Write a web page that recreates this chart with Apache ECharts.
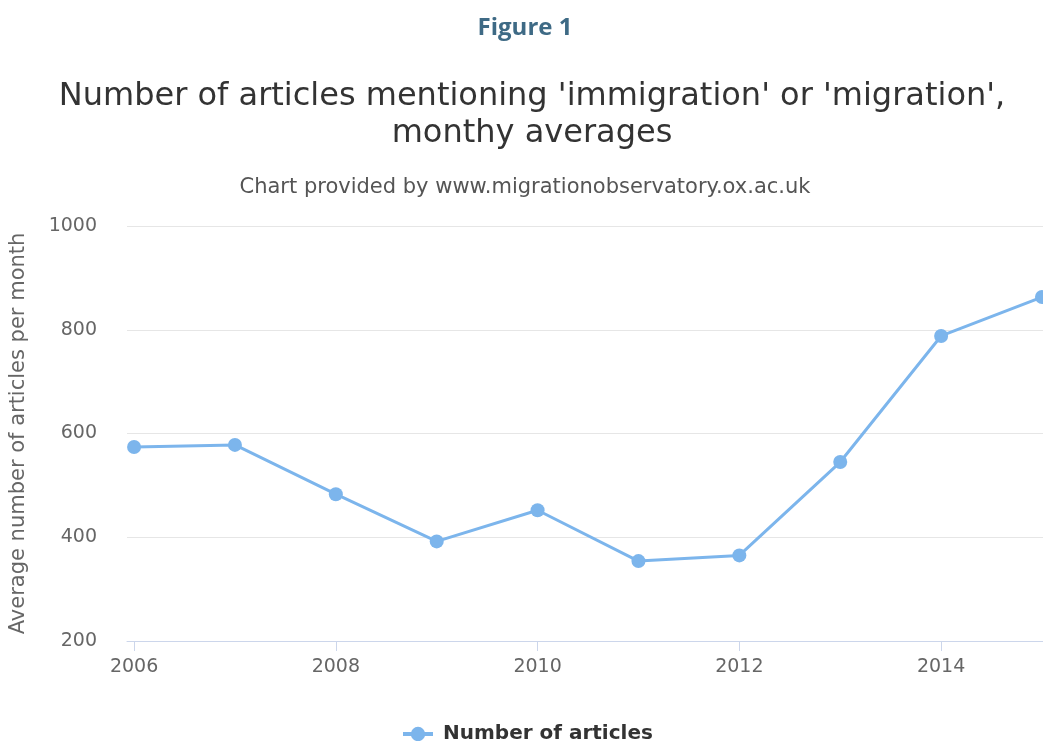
<!DOCTYPE html>
<html>
<head>
<meta charset="utf-8">
<script src="https://cdn.jsdelivr.net/npm/echarts@6/dist/echarts.min.js"></script>
<style>
body { margin: 0; padding: 0; background: #fff; }
#main { width: 1043px; height: 741px; }
</style>
</head>
<body>
<div id="main"></div>
<script>
const years = [2006, 2007, 2008, 2009, 2010, 2011, 2012, 2013, 2014, 2015]
const articles = [574, 578, 483, 392, 452, 354, 365, 545, 788, 863]
const yearTicks = [2006, 2008, 2010, 2012, 2014]

const chart = echarts.init(document.getElementById('main'))
const font = 'DejaVu Sans'

chart.setOption({
  animation: false,
  title: [{
    text: 'Figure 1',
    left: 520,
    textAlign: 'center',
    top: 11,
    textStyle: { color: '#3e6a85', fontSize: 24, fontWeight: 'bold', fontFamily: 'Open Sans' }
  }, {
    text: "Number of articles mentioning 'immigration' or 'migration',\nmonthy averages",
    left: 527,
    textAlign: 'center',
    top: 73,
    textStyle: { color: '#333', fontSize: 32, fontWeight: 'normal', fontFamily: font, lineHeight: 37 }
  }, {
    text: 'Chart provided by www.migrationobservatory.ox.ac.uk',
    left: 520,
    textAlign: 'center',
    top: 172,
    textStyle: { color: '#555', fontSize: 21, fontWeight: 'normal', fontFamily: font }
  }],
  legend: {
    top: 719,
    left: 396,
    itemWidth: 30,
    itemHeight: 18,
    lineStyle: { width: 4 },
    textStyle: { color: '#333', fontSize: 20, fontWeight: 'bold', fontFamily: font, padding: [0, 0, 0, 5] }
  },
  grid: { left: 127, right: 0, top: 226, bottom: 100 },
  xAxis: {
    type: 'value',
    min: 2005.93,
    max: 2015.01,
    splitLine: { show: false },
    axisLine: { lineStyle: { color: '#ccd6eb' } },
    axisTick: { show: true, length: 10, customValues: yearTicks, lineStyle: { color: '#ccd6eb' } },
    axisLabel: {
      customValues: yearTicks,
      color: '#666', fontSize: 19, fontFamily: font, margin: 17,
      formatter: v => String(v)
    }
  },
  yAxis: {
    type: 'value',
    min: 200,
    max: 1000,
    interval: 200,
    name: 'Average number of articles per month',
    nameLocation: 'middle',
    nameGap: 98,
    nameTextStyle: { color: '#666', fontSize: 21, fontFamily: font },
    axisLine: { show: false },
    axisTick: { show: false },
    axisLabel: { color: '#666', fontSize: 19, fontFamily: font, margin: 30, formatter: v => String(v) },
    splitLine: { lineStyle: { color: '#e6e6e6' } }
  },
  series: [{
    name: 'Number of articles',
    type: 'line',
    data: years.map((y, i) => [y, articles[i]]),
    symbol: 'circle',
    symbolSize: 14,
    clip: false,
    itemStyle: { color: '#7cb5ec' },
    lineStyle: { color: '#7cb5ec', width: 3 }
  }]
})
</script>
</body>
</html>
